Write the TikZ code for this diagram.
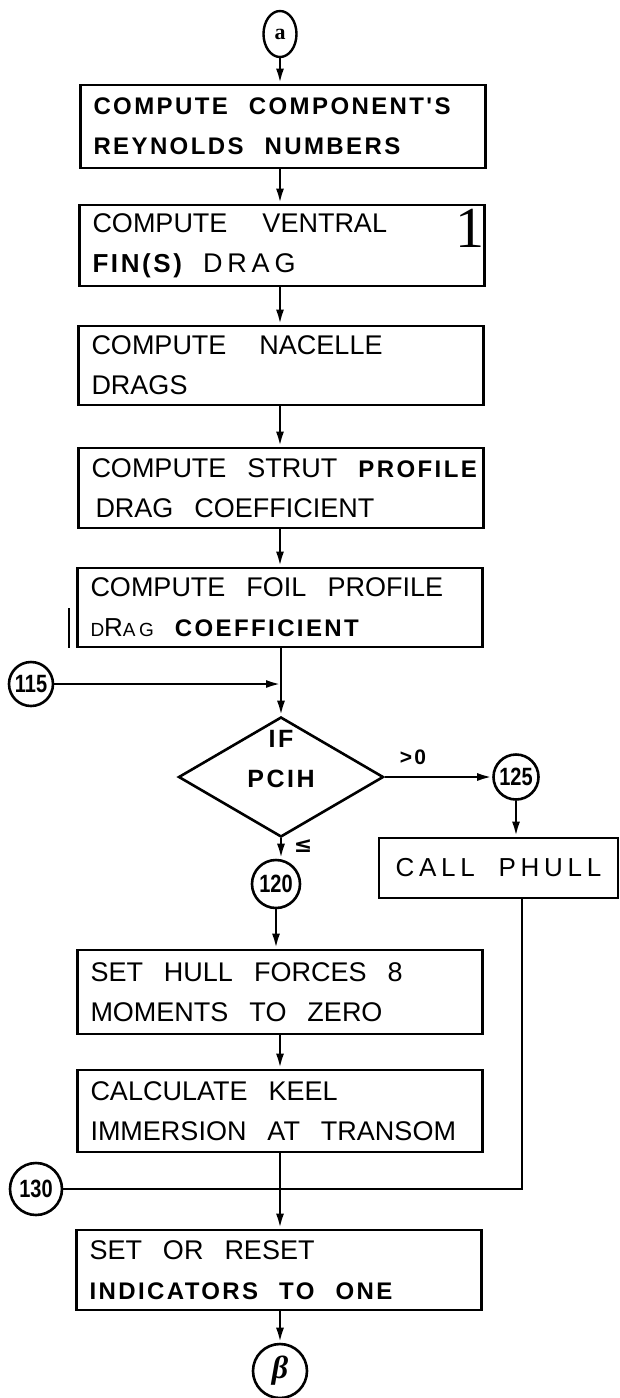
\documentclass[tikz,border=0pt]{standalone}
\usepackage{fontspec}
\setmainfont{Liberation Sans}
\newfontfamily\heavy{Liberation Sans Bold}[LetterSpace=10]
\newfontfamily\num{Liberation Sans Bold}[FakeStretch=0.8]
\newfontfamily\wide{Liberation Sans}[LetterSpace=18]
\newfontfamily\serifnum{Liberation Serif}
\newfontfamily\symb{DejaVu Sans}
\usetikzlibrary{arrows.meta,shapes.geometric}
\newcommand\boxfont{\fontsize{27}{40}\selectfont\spaceskip 21pt plus 2pt\relax}
\newcommand\bft[1]{{\heavy\fontsize{24}{40}\selectfont #1}}
\newcommand\drag{{\wide\fontsize{19}{40}\selectfont D\fontsize{26}{40}\selectfont R\fontsize{19}{40}\selectfont AG}}
\begin{document}
\begin{tikzpicture}[x=1pt,y=-1pt,
  box/.style={draw, line width=2.8pt, minimum width=405pt, minimum height=82pt, text width=379pt,
    inner xsep=13pt, inner ysep=0pt, align=flush left, font=\boxfont},
  circ/.style={circle, draw, line width=2.6pt, inner sep=0pt, font=\num\fontsize{25}{25}\selectfont},
  arr/.style={line width=2.6pt, -{Latex[length=15pt,width=8pt]}},
  line/.style={line width=2.4pt}]
  \useasboundingbox (0,0) rectangle (620,1398);
  \node[ellipse, draw, line width=2.4pt, minimum width=33pt, minimum height=46pt, inner sep=0pt,
    font=\serifnum\bfseries\fontsize{22}{22}\selectfont] (a) at (280,34) {a};
  \node[box, minimum height=83pt] (b1) at (283,126.5) {\bft{COMPUTE COMPONENT'S}\\\bft{REYNOLDS NUMBERS}};
  \node[box, minimum height=81pt] (b2) at (282,245.5) {COMPUTE\hspace{14pt} VENTRAL\\{\heavy\fontsize{26}{40}\selectfont FIN(S)} {\wide DRAG}};
  \node[font=\serifnum\fontsize{58}{58}\selectfont] (one) at (470,228) {1};
  \node[box, minimum height=79pt] (b3) at (281,365.5) {COMPUTE\hspace{12pt} NACELLE\\DRAGS};
  \node[box, minimum height=80pt] (b4) at (281,488) {\mbox{COMPUTE STRUT \bft{PROFILE}}\\\hspace*{4pt}DRAG COEFFICIENT};
  \node[box, minimum height=79pt] (b5) at (280,607.5) {COMPUTE FOIL PROFILE\\\drag\ \bft{COEFFICIENT}};
  \draw[line] (69,608) -- (69,648);
  \node[circ, minimum size=44pt] (c115) at (31,684) {115};
  \node[diamond, draw, line width=2.6pt, minimum width=205pt, minimum height=120pt, inner sep=0pt,
    font=\heavy\fontsize{25}{40}\selectfont] (dia) at (281,777)
    {\raisebox{-10pt}[0pt][0pt]{\begin{tabular}[b]{@{}c@{}}IF\\PCIH\end{tabular}}};
  \node[font=\heavy\fontsize{21}{21}\selectfont] (gt) at (413,757) {>0};
  \node[circ, minimum size=45pt] (c125) at (516,777) {125};
  \node[draw, line width=2.8pt, minimum width=239pt, minimum height=60pt, inner sep=2pt,
    font=\wide\fontsize{26}{30}\selectfont] (phull) at (498.5,868) {CALL\hspace{12pt} PHULL};
  \node[font=\symb\bfseries\fontsize{22}{22}\selectfont] (le) at (303,846) {≤};
  \node[circ, minimum size=48pt] (c120) at (276,884) {120};
  \node[box, minimum height=84pt] (b6) at (280,992) {SET HULL FORCES 8\\MOMENTS TO ZERO};
  \node[box] (b7) at (280,1111) {CALCULATE KEEL\\IMMERSION AT TRANSOM};
  \node[circ, minimum size=52pt] (c130) at (36,1189) {130};
  \coordinate (j130) at (522,1189);
  \node[box, minimum width=403pt, minimum height=80pt] (b8) at (279,1270) {SET OR RESET\\\bft{INDICATORS TO ONE}};
  \node[circ, minimum size=54pt, font=\serifnum\bfseries\itshape\fontsize{32}{32}\selectfont] (beta) at (280,1371) {β};
  \draw[arr] (a) -- (a |- b1.north);
  \draw[arr] (b1.south -| a) -- (b2.north -| a);
  \draw[arr] (b2.south -| a) -- (b3.north -| a);
  \draw[arr] (b3.south -| a) -- (b4.north -| a);
  \draw[arr] (b4.south -| a) -- (b5.north -| a);
  \draw[arr] (b5.south -| dia.north) -- (dia.north);
  \draw[arr] (c115) -- (c115 -| dia.north);
  \draw[arr] (dia.east) -- (c125);
  \draw[arr] (c125) -- (c125 |- phull.north);
  \draw[arr] (dia.south) -- (dia.south |- c120.north);
  \draw[arr] (c120) -- (c120 |- b6.north);
  \draw[arr] (b6.south -| a) -- (b7.north -| a);
  \draw[line] (phull.south -| j130) -- (j130) -- (c130);
  \draw[arr] (b7.south -| a) -- (b8.north -| a);
  \draw[arr] (b8.south -| a) -- (beta);
\end{tikzpicture}
\end{document}
